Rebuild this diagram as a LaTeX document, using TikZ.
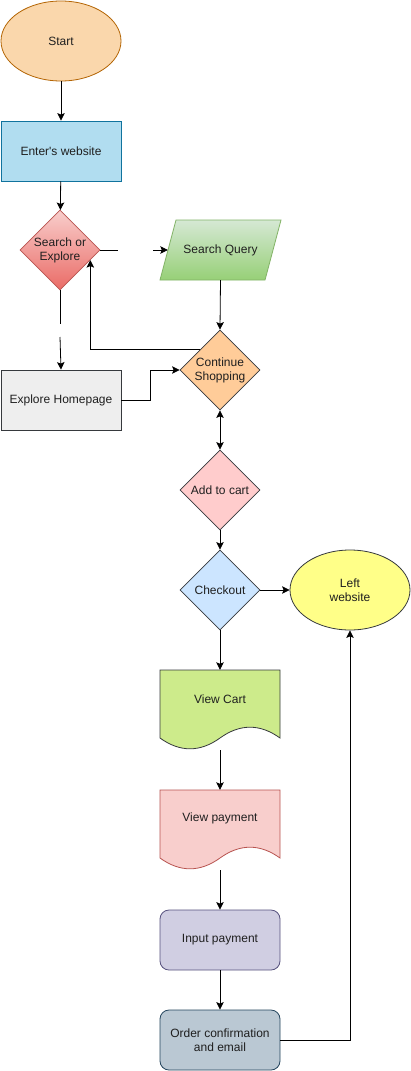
\documentclass[tikz,border=0pt]{standalone}
\usepackage{fontspec}
\setmainfont{Liberation Sans}
\usetikzlibrary{shapes.geometric,arrows.meta,calc}
\definecolor{startF}{HTML}{FAD7AC}\definecolor{startS}{HTML}{B46504}
\definecolor{blueF}{HTML}{B1DDF0}\definecolor{blueS}{HTML}{10739E}
\definecolor{redT}{HTML}{F8CECC}\definecolor{redB}{HTML}{EA6B66}\definecolor{redS}{HTML}{B85450}
\definecolor{grnT}{HTML}{D5E8D4}\definecolor{grnB}{HTML}{97D077}\definecolor{grnS}{HTML}{82B366}
\definecolor{greyF}{HTML}{EEEEEE}\definecolor{darkS}{HTML}{36393D}
\definecolor{orF}{HTML}{FFCC99}\definecolor{pinkF}{HTML}{FFCCCC}
\definecolor{ltblF}{HTML}{CCE5FF}\definecolor{yelF}{HTML}{FFFF88}
\definecolor{limeF}{HTML}{CDEB8B}\definecolor{purF}{HTML}{D0CEE2}\definecolor{purS}{HTML}{56517E}
\definecolor{slF}{HTML}{BAC8D3}\definecolor{slS}{HTML}{23445D}
\begin{document}
\begin{tikzpicture}[x=1pt,y=-1pt,
  every node/.style={font=\fontsize{12}{14}\selectfont, text=black!88},
  shp/.style={line width=0.8pt},
  box/.style={shp, draw, rectangle, minimum width=120pt, minimum height=60pt, inner sep=0pt, align=center},
  rbox/.style={box, rounded corners=9pt},
  dia/.style={shp, draw, diamond, minimum width=80pt, minimum height=80pt, inner sep=0pt},
  ell/.style={shp, draw, ellipse, minimum width=120pt, minimum height=80pt, inner sep=0pt, align=center},
  ghost/.style={rectangle, minimum width=120pt, minimum height=80pt, inner sep=0pt},
  arr/.style={-{Stealth[length=7.5pt,width=7.5pt,inset=1.5pt]}, line width=0.8pt},
  darr/.style={{Stealth[length=7.5pt,width=7.5pt,inset=1.5pt]}-{Stealth[length=7.5pt,width=7.5pt,inset=1.5pt]}, line width=0.8pt},
  line/.style={line width=0.8pt}
]
\useasboundingbox (0,0) rectangle (411,1071);
\fill[white] (0,0) rectangle (411,1071);

% nodes
\node[ell, fill=startF, draw=startS] (st) at (61,41) {Start};
\node[box, fill=blueF, draw=blueS] (ew) at (61,151) {Enter\textquotesingle s website};
\node[dia, top color=redT, bottom color=redB, draw=redS,
      label={[align=center]center:Search or\\Explore}] (se) at (60,250) {};
\path[shp, draw=grnS, top color=grnT, bottom color=grnB]
  (176,220) -- (281,220) -- (265,280) -- (160,280) -- cycle;
\node[rectangle, minimum width=121pt, minimum height=60pt, inner sep=0pt] (sq) at (220.5,250) {Search Query};
\node[box, fill=greyF, draw=darkS] (eh) at (61,400) {Explore Homepage};
\node[dia, fill=orF, draw=darkS,
      label={[align=center]center:Continue\\Shopping}] (cs) at (220,370) {};
\node[dia, fill=pinkF, draw=darkS, label={center:Add to cart}] (ac) at (220,490) {};
\node[dia, fill=ltblF, draw=darkS, label={center:Checkout}] (co) at (220,590) {};
\node[ell, fill=yelF, draw=darkS] (lw) at (350,590) {Left\\website};

% documents
\draw[shp, fill=limeF, draw=darkS] (160,670) -- (280,670) -- (280,738)
  .. controls (260,723.6) and (240,723.6) .. (220,738)
  .. controls (200,752.4) and (180,752.4) .. (160,738) -- cycle;
\node[ghost] (vc) at (220,710) {};
\node at ([yshift=11pt]vc.center) {View Cart};
\draw[shp, fill=redT, draw=redS] (160,790) -- (280,790) -- (280,858)
  .. controls (260,843.6) and (240,843.6) .. (220,858)
  .. controls (200,872.4) and (180,872.4) .. (160,858) -- cycle;
\node[ghost] (vp) at (220,830) {};
\node at ([yshift=12pt]vp.center) {View payment};

\node[rbox, fill=purF, draw=purS] (ip) at (220,940) {Input payment};
\node[rbox, fill=slF, draw=slS] (oc) at (220,1040) {Order confirmation\\and email};

% connectors
\draw[arr] (st) -- (ew);
\draw[arr] (ew) -- (se);
\coordinate (g1) at (118,250);
\coordinate (g2) at (153,250);
\draw[line] (se.east) -- (g1);
\draw[arr] (g2) -- ([xshift=8pt]sq.west);
\coordinate (g3) at (60,324);
\coordinate (g4) at (60,337);
\draw[line] (se.south) -- (g3);
\draw[arr] (g4) -- (eh.north);
\draw[arr] (sq.south) -- (cs.north);
\draw[arr] (cs.north west) -| ($(se.east)!0.25!(se.south)$);
\draw[arr] (eh.east) -- ++(29,0) |- (cs.west);
\draw[darr] (cs.south) -- (ac.north);
\draw[arr] (ac.south) -- (co.north);
\draw[arr] (co.east) -- (lw.west);
\draw[arr] (co.south) -- (vc.north);
\draw[arr] (vc.south) -- (vp.north);
\draw[arr] (vp.south) -- (ip.north);
\draw[arr] (ip.south) -- (oc.north);
\draw[arr] (oc.east) -| (lw.south);
\end{tikzpicture}
\end{document}
